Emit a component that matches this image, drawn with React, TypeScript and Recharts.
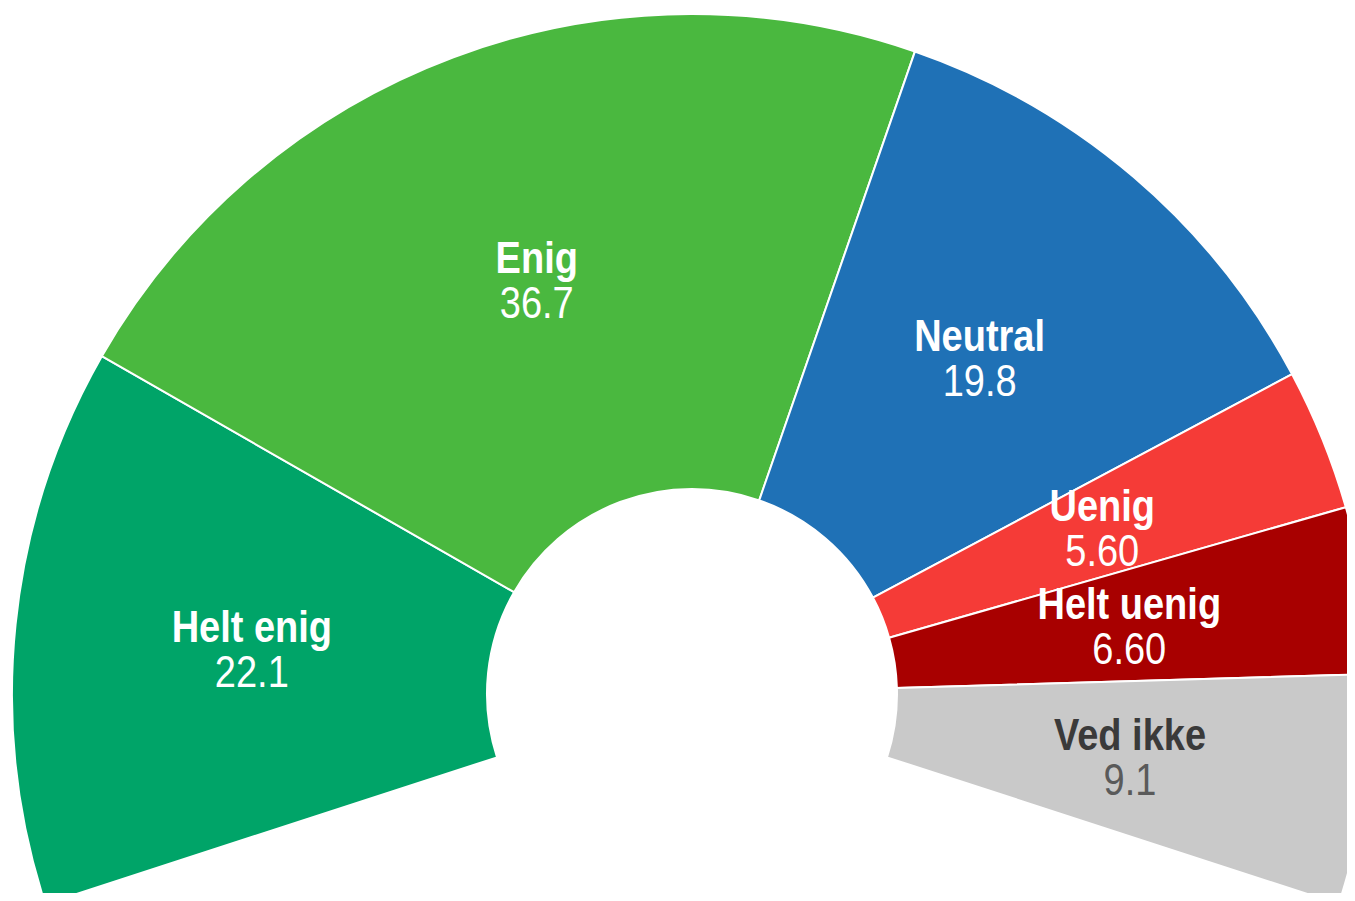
import { PieChart, Pie, Cell } from 'recharts';

const categories = ['Helt enig', 'Enig', 'Neutral', 'Uenig', 'Helt uenig', 'Ved ikke'];
const values = [22.1, 36.7, 19.8, 5.6, 6.6, 9.1];
const valueLabels = ['22.1', '36.7', '19.8', '5.60', '6.60', '9.1'];
const colors = ['#00a468', '#4ab83f', '#1f71b6', '#f53b37', '#a80000', '#c9c9c9'];
const textColors = ['#ffffff', '#ffffff', '#ffffff', '#ffffff', '#ffffff', '#3a3a3a'];
const valueColors = ['#ffffff', '#ffffff', '#ffffff', '#ffffff', '#ffffff', '#5a5a5a'];

const data = categories.map((name, i) => ({ name, value: values[i] }));

const RADIAN = Math.PI / 180;

function renderLabel(props: any) {
  const { cx, cy, midAngle, innerRadius, outerRadius, index } = props;
  const r = (innerRadius + outerRadius) / 2;
  const x = cx + r * Math.cos(-midAngle * RADIAN);
  const y = cy + r * Math.sin(-midAngle * RADIAN);
  return (
    <g transform={`translate(${x},${y}) scale(1,1.18)`}>
      <text
        x={0}
        y={-19}
        textAnchor="middle"
        dominantBaseline="central"
        fontFamily="'Liberation Sans', Arial, sans-serif"
        fontWeight="bold"
        fontSize={38}
        fill={textColors[index]}
      >
        {categories[index]}
      </text>
      <text
        x={0}
        y={19}
        textAnchor="middle"
        dominantBaseline="central"
        fontFamily="'Liberation Sans', Arial, sans-serif"
        fontSize={38}
        fill={valueColors[index]}
      >
        {valueLabels[index]}
      </text>
    </g>
  );
}

export default function App() {
  return (
    <div style={{ margin: -8, width: 1355, height: 901, overflow: 'hidden', background: '#fff' }}>
      <PieChart width={1355} height={901} margin={{ top: 0, right: 0, bottom: 0, left: 0 }}>
        <Pie
          data={data}
          dataKey="value"
          nameKey="name"
          cx={692}
          cy={694}
          innerRadius={205}
          outerRadius={680}
          startAngle={198}
          endAngle={-18}
          stroke="#ffffff"
          strokeWidth={2}
          label={renderLabel}
          labelLine={false}
          isAnimationActive={false}
        >
          {data.map((d, i) => (
            <Cell key={d.name} fill={colors[i]} />
          ))}
        </Pie>
      </PieChart>
    </div>
  );
}
